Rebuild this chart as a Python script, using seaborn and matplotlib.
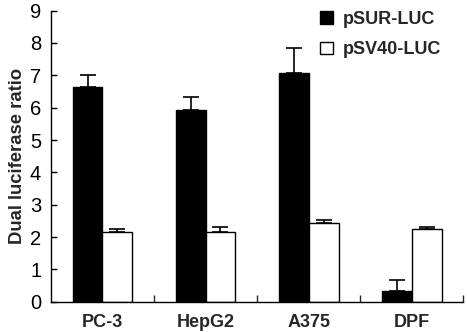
import matplotlib
matplotlib.use("Agg")
import matplotlib.pyplot as plt
from matplotlib.patches import Patch
import seaborn as sns
import numpy as np
import pandas as pd

cells = ["PC-3", "HepG2", "A375", "DPF"]
constructs = ["pSUR-LUC", "pSV40-LUC"]
sur_mean = [6.65, 5.92, 7.08, 0.32]
sur_err = [0.35, 0.42, 0.75, 0.34]
sv40_mean = [2.17, 2.17, 2.44, 2.25]
sv40_err = [0.07, 0.15, 0.10, 0.07]

sns.set_theme(style="ticks")
plt.rcParams['font.family'] = ['Liberation Sans', 'DejaVu Sans']

df = pd.DataFrame({
    "cell": cells * 2,
    "construct": [constructs[0]] * 4 + [constructs[1]] * 4,
    "ratio": sur_mean + sv40_mean,
})

fig = plt.figure(figsize=(4.67, 3.32), dpi=100)
ax = fig.add_axes([0.109, 0.091, 0.883, 0.877])

sns.barplot(data=df, x="cell", y="ratio", hue="construct", order=cells,
            hue_order=constructs, palette=["black", "white"], width=0.58,
            edgecolor="black", linewidth=1.0, errorbar=None, legend=False, ax=ax)

# upper-only error bars on top of each bar
for cont, errs in zip(ax.containers, [sur_err, sv40_err]):
    xs = [b.get_x() + b.get_width() / 2 for b in cont]
    ys = [b.get_height() for b in cont]
    ax.errorbar(xs, ys, yerr=[np.zeros(len(errs)), errs], fmt="none",
                ecolor="black", elinewidth=1.2, capsize=5.5, capthick=1.2)

ax.set_ylim(0, 9)
ax.set_xlim(-0.5, 3.5)
ax.set_yticks(range(10))
ax.tick_params(axis="y", direction="in", length=4, width=1, labelsize=14.5,
               pad=7, colors="black")
ax.tick_params(axis="x", which="major", length=0, pad=9)
ax.set_xticks([0.5, 1.5, 2.5, 3.5], minor=True)
ax.tick_params(axis="x", which="minor", direction="in", length=5, width=1)
for lab in ax.get_xticklabels():
    lab.set_fontweight("bold")
    lab.set_fontsize(13)

ax.set_xlabel("")
ax.set_ylabel("Dual luciferase ratio", fontsize=13.3, fontweight="bold", labelpad=3)
sns.despine(ax=ax)
for s in ["left", "bottom"]:
    ax.spines[s].set_linewidth(1.0)
    ax.spines[s].set_color("black")

handles = [Patch(facecolor="black", edgecolor="black"),
           Patch(facecolor="white", edgecolor="black")]
ax.legend(handles, constructs, loc="upper right", bbox_to_anchor=(0.985, 1.055),
          frameon=False, prop={"weight": "bold", "size": 13},
          handlelength=0.7, handleheight=0.7, handletextpad=0.55, labelspacing=0.75)

fig.savefig("out.png", dpi=100)
